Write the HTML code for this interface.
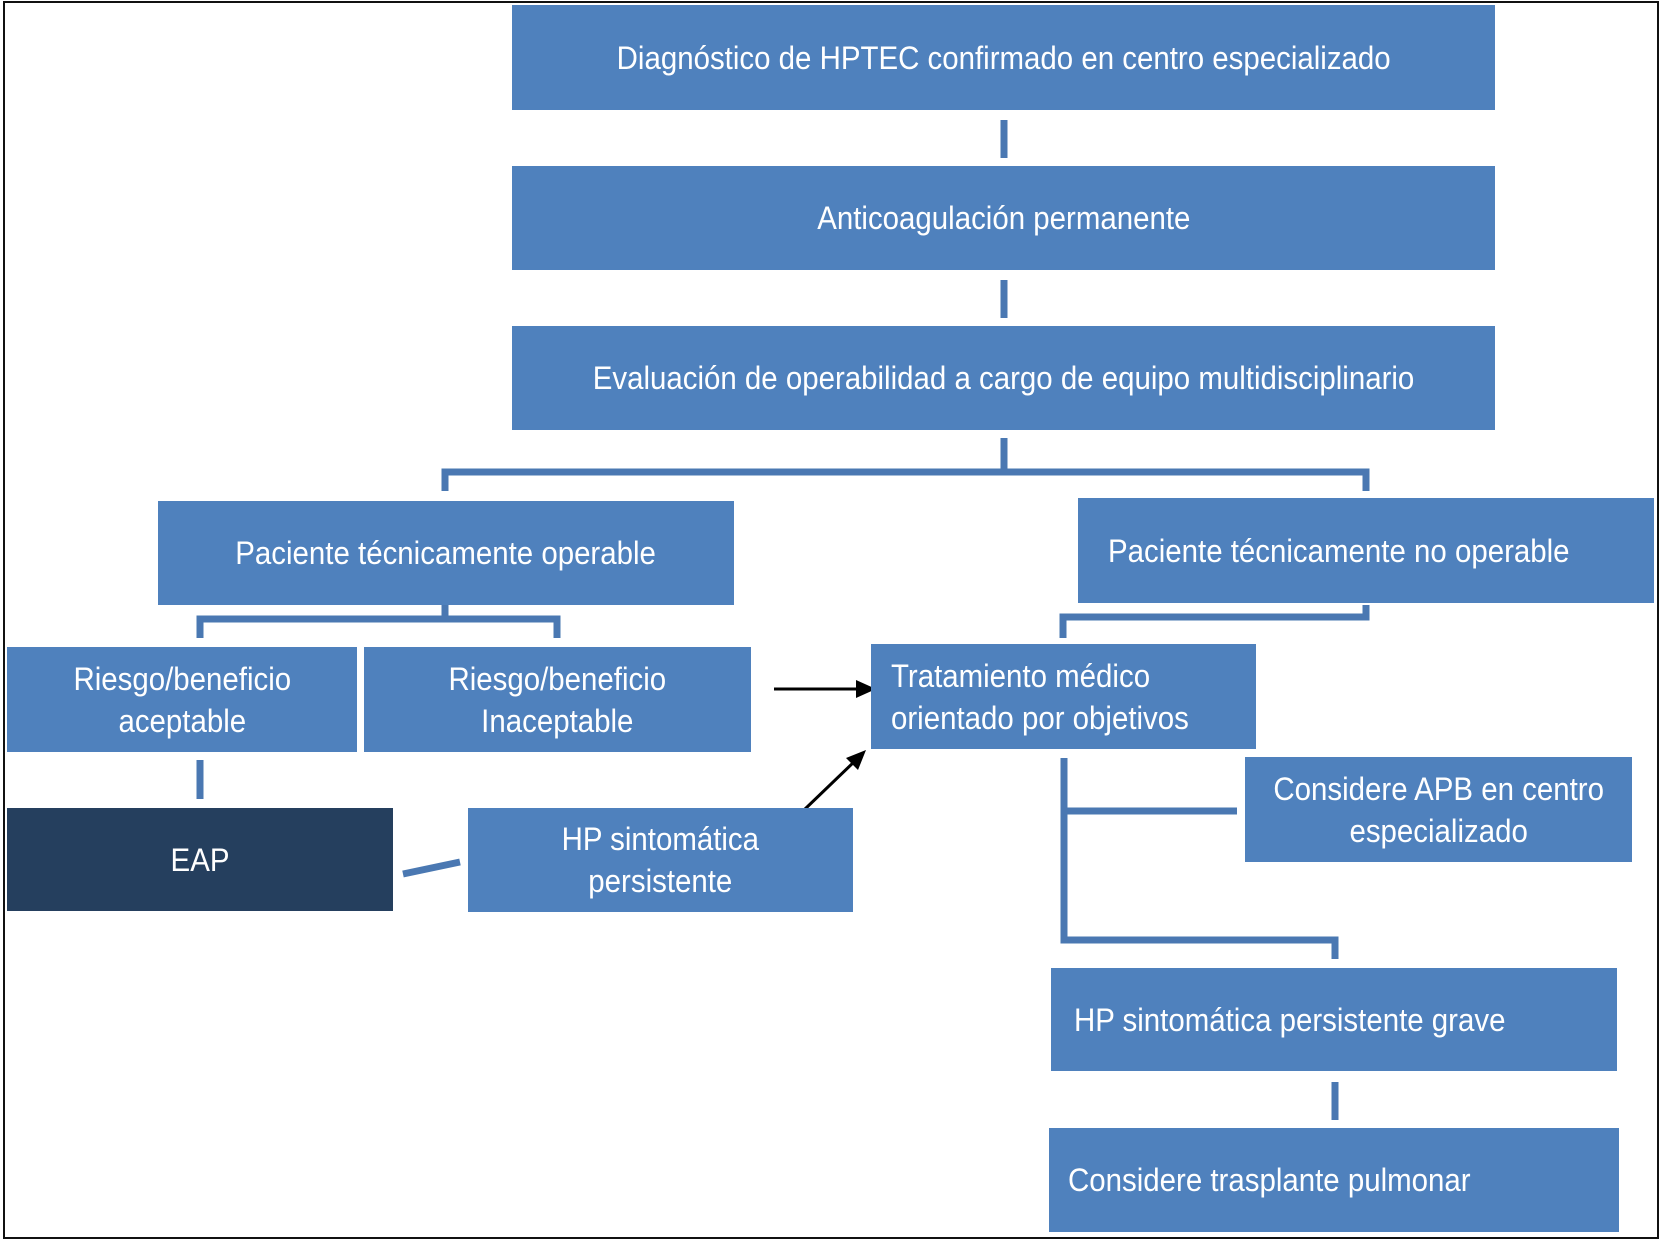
<!DOCTYPE html>
<html><head><meta charset="utf-8"><style>
body{margin:0;width:1666px;height:1243px;background:#fff;position:relative;overflow:hidden;font-family:"Liberation Sans",sans-serif}
.b{position:absolute;background:#4f81bd;color:#fff;display:flex;align-items:center;justify-content:center;text-align:center;font-size:32px;line-height:42px}
.b span{display:inline-block;transform:scaleX(0.92);white-space:nowrap}
.l{justify-content:flex-start;text-align:left}
.l span{transform-origin:left center}
</style></head><body>
<div style="position:absolute;left:3px;top:1px;width:1652px;height:1234px;border:2px solid #111"></div>
<svg width="1666" height="1243" style="position:absolute;left:0;top:0">
<g stroke="#4a78b2" stroke-width="7" fill="none">
<line x1="1004" y1="120" x2="1004" y2="158"/>
<line x1="1004" y1="280" x2="1004" y2="318"/>
<line x1="1004" y1="438" x2="1004" y2="472"/>
<polyline points="445,491 445,472 1366,472 1366,491"/>
<polyline points="200,638 200,619 557,619 557,638"/>
<line x1="445" y1="605" x2="445" y2="619"/>
<polyline points="1063,638 1063,617 1366,617 1366,605"/>
<line x1="200" y1="760" x2="200" y2="799"/>
<line x1="403" y1="874" x2="460" y2="862"/>
<polyline points="1064,758 1064,940 1335,940 1335,959"/>
<line x1="1064" y1="811" x2="1237" y2="811"/>
<line x1="1335" y1="1082" x2="1335" y2="1120"/>
</g>
<g stroke="#000" stroke-width="3" fill="#000">
<line x1="774" y1="689" x2="860" y2="689"/>
<polygon points="876,689 856,680 856,698" stroke="none"/>
<line x1="804" y1="810" x2="856" y2="760"/>
<polygon points="866,750 846,758 858,770" stroke="none"/>
</g>
</svg>
<div class="b" style="left:512px;top:5px;width:983px;height:105px"><span>Diagnóstico de HPTEC confirmado en centro especializado</span></div>
<div class="b" style="left:512px;top:166px;width:983px;height:104px"><span>Anticoagulación permanente</span></div>
<div class="b" style="left:512px;top:326px;width:983px;height:104px"><span>Evaluación de operabilidad a cargo de equipo multidisciplinario</span></div>
<div class="b" style="left:158px;top:501px;width:576px;height:104px"><span>Paciente técnicamente operable</span></div>
<div class="b l" style="left:1078px;top:498px;width:576px;height:105px;padding-left:30px;box-sizing:border-box"><span>Paciente técnicamente no operable</span></div>
<div class="b" style="left:7px;top:647px;width:350px;height:105px"><span>Riesgo/beneficio<br>aceptable</span></div>
<div class="b" style="left:364px;top:647px;width:387px;height:105px"><span>Riesgo/beneficio<br>Inaceptable</span></div>
<div class="b l" style="left:871px;top:644px;width:385px;height:105px;padding-left:20px;box-sizing:border-box"><span>Tratamiento médico<br>orientado por objetivos</span></div>
<div class="b" style="left:7px;top:808px;width:386px;height:103px;background:#253f5e"><span>EAP</span></div>
<div class="b" style="left:468px;top:808px;width:385px;height:104px"><span>HP sintomática<br>persistente</span></div>
<div class="b" style="left:1245px;top:757px;width:387px;height:105px"><span>Considere APB en centro<br>especializado</span></div>
<div class="b l" style="left:1051px;top:968px;width:566px;height:103px;padding-left:23px;box-sizing:border-box"><span>HP sintomática persistente grave</span></div>
<div class="b l" style="left:1049px;top:1128px;width:570px;height:104px;padding-left:19px;box-sizing:border-box"><span>Considere trasplante pulmonar</span></div>
</body></html>
